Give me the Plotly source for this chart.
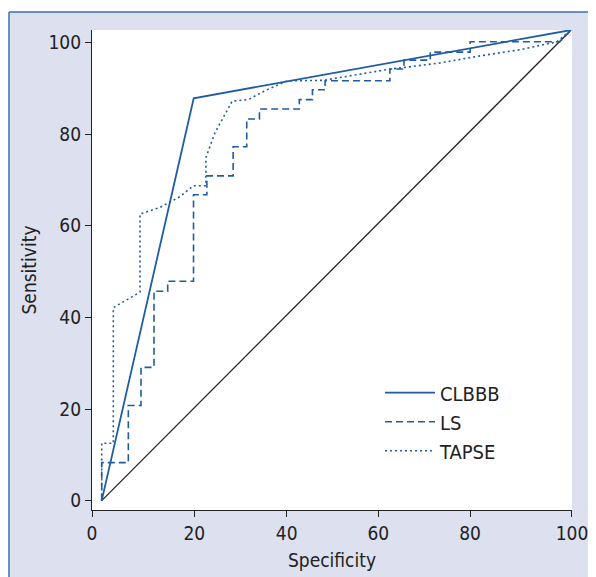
import plotly.graph_objects as go

# ---- data (specificity, sensitivity) ----
clbbb_spec = [0, 19.6, 100]
clbbb_sens = [0, 85.5, 100]

ls_spec = [0, 0, 5.67, 5.67, 8.37, 8.37, 11.14, 11.14, 14.06, 14.06, 19.56, 19.56,
           22.4, 22.4, 28.0, 28.0, 30.9, 30.9, 33.6, 33.6, 42.1, 42.1, 44.9, 44.9,
           47.6, 47.6, 61.4, 61.4, 64.4, 64.4, 70.0, 70.0, 78.5, 78.5, 97.6, 100]
ls_sens = [0, 8.06, 8.06, 20.2, 20.2, 28.3, 28.3, 44.5, 44.5, 46.6, 46.6, 65.0,
           65.0, 69.0, 69.0, 75.2, 75.2, 81.1, 81.1, 83.2, 83.2, 85.2, 85.2, 87.3,
           87.3, 89.2, 89.2, 91.7, 91.7, 93.6, 93.6, 95.3, 95.3, 97.5, 97.5, 100]

tapse_spec = [0, 0, 2.47, 2.47, 8.16, 8.16, 12.4, 16.7, 19.5, 22.2, 22.2, 24.1,
              27.8, 31.2, 34.8, 39.5, 47.2, 54.0, 61.4, 64.2, 72.1, 80.6, 89.1, 97.0, 100]
tapse_sens = [0, 12.2, 12.2, 41.0, 44.3, 60.9, 62.3, 64.6, 66.9, 66.9, 72.9, 78.1,
              84.9, 85.2, 87.1, 89.2, 89.3, 90.5, 91.7, 92.0, 93.0, 94.5, 95.8, 97.5, 100]

ref_spec = [0, 100]
ref_sens = [0, 100]

x_tick_labels = ["0", "20", "40", "60", "80", "100"]
y_tick_labels = ["0", "20", "40", "60", "80", "100"]

# ---- styling / positions ----
x_tick_pos = [-2.06, 19.73, 39.42, 58.94, 78.48, 100.19]
y_tick_pos = [0, 19.46, 38.93, 58.42, 77.9, 97.39]

BLUE = "#1f5ca3"
FONT = "DejaVu Sans Condensed, Liberation Sans Narrow, sans-serif"
BG = "#dde0ee"
BORDER = "#3a6fb0"
FS = 19

W, H = 588, 569
ML, MR, MT, MB = 84, 24, 22, 67
PW = W - ML - MR
PH = H - MT - MB


def px(fx):
    return (fx - ML) / PW


def py(fy):
    return (H - MB - fy) / PH


fig = go.Figure()
fig.add_trace(go.Scatter(x=ref_spec, y=ref_sens, mode="lines", showlegend=False,
                         line=dict(color="#222222", width=1.3), cliponaxis=False,
                         hoverinfo="skip"))
fig.add_trace(go.Scatter(x=clbbb_spec, y=clbbb_sens, mode="lines", name="CLBBB",
                         line=dict(color=BLUE, width=1.8), cliponaxis=False))
fig.add_trace(go.Scatter(x=ls_spec, y=ls_sens, mode="lines", name="LS",
                         line=dict(color=BLUE, width=1.6, dash="7px,4px"), cliponaxis=False))
fig.add_trace(go.Scatter(x=tapse_spec, y=tapse_sens, mode="lines", name="TAPSE",
                         line=dict(color=BLUE, width=1.6, dash="2px,3px"), cliponaxis=False))

axis_common = dict(showgrid=False, zeroline=False, showline=True, linecolor="#222222",
                   linewidth=1.2, ticks="outside", ticklen=6, tickwidth=1.2,
                   tickcolor="#222222", tickfont=dict(family=FONT, size=FS, color="#222222"),
                   fixedrange=True, automargin=False)

fig.update_layout(
    width=W, height=H,
    margin=dict(l=ML, r=MR, t=MT, b=MB),
    paper_bgcolor=BG, plot_bgcolor="white",
    font=dict(family=FONT, color="#222222"),
    xaxis=dict(range=[-2.07, 100.2], tickmode="array", tickvals=x_tick_pos,
               ticktext=x_tick_labels,
               title=dict(text="Specificity", font=dict(family=FONT, size=FS), standoff=10),
               **axis_common),
    yaxis=dict(range=[-2, 100], tickmode="array", tickvals=y_tick_pos,
               ticktext=y_tick_labels,
               title=dict(text="Sensitivity", font=dict(family=FONT, size=FS), standoff=6),
               **axis_common),
    legend=dict(x=0.6, y=0.285, xanchor="left", yanchor="top", bgcolor="rgba(0,0,0,0)",
                font=dict(family=FONT, size=20, color="#222222"), itemwidth=50,
                tracegroupgap=0),
    shapes=[
        # white strips outside the framed panel
        dict(type="rect", xref="paper", yref="paper", x0=px(-20), x1=px(1), y0=py(H + 20),
             y1=py(-20), fillcolor="white", line=dict(width=0)),
        dict(type="rect", xref="paper", yref="paper", x0=px(-20), x1=px(W + 20), y0=py(4),
             y1=py(-20), fillcolor="white", line=dict(width=0)),
        # blue frame (left and top)
        dict(type="line", xref="paper", yref="paper", x0=px(1), x1=px(1),
             y0=py(4), y1=py(H + 20), line=dict(color=BORDER, width=1.5)),
        dict(type="line", xref="paper", yref="paper", x0=px(1), x1=px(W + 20),
             y0=py(4), y1=py(4), line=dict(color=BORDER, width=1.5)),
    ],
)

fig.write_html("out.html")
